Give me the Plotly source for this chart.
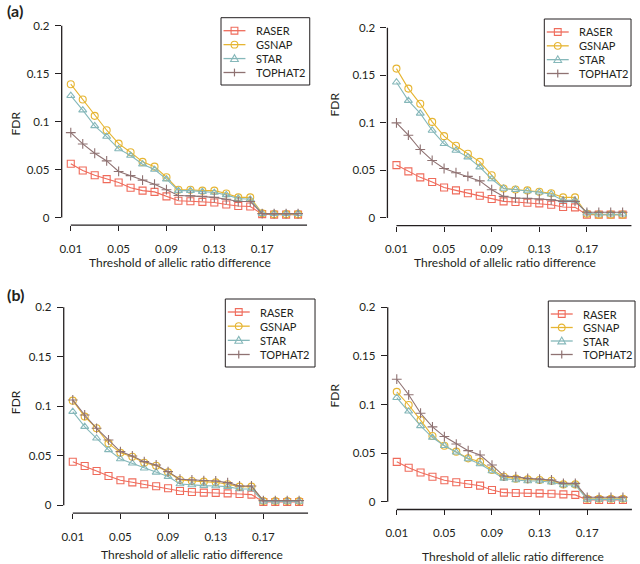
import plotly.graph_objects as go

W, H = 640, 564

# ---------------- data ----------------
thresholds = [0.01, 0.02, 0.03, 0.04, 0.05, 0.06, 0.07, 0.08, 0.09, 0.10,
              0.11, 0.12, 0.13, 0.14, 0.15, 0.16, 0.17, 0.18, 0.19, 0.20]
x_tickvals = [0.01, 0.05, 0.09, 0.13, 0.17]
x_ticktext = ["0.01", "0.05", "0.09", "0.13", "0.17"]
y_tickvals = [0, 0.05, 0.1, 0.15, 0.2]
y_ticktext = ["0", "0.05", "0.1", "0.15", "0.2"]
methods = ["RASER", "GSNAP", "STAR", "TOPHAT2"]

raser_a1 = [0.056, 0.049, 0.044, 0.040, 0.0365, 0.031, 0.028, 0.0267, 0.022, 0.0174,
            0.017, 0.0163, 0.0156, 0.0135, 0.012, 0.0115, 0.0035, 0.003, 0.003, 0.003]
gsnap_a1 = [0.139, 0.123, 0.106, 0.091, 0.077, 0.068, 0.058, 0.053, 0.042, 0.029,
            0.029, 0.028, 0.028, 0.025, 0.021, 0.021, 0.0045, 0.0035, 0.0035, 0.0035]
star_a1 = [0.127, 0.112, 0.0955, 0.0844, 0.0715, 0.0646, 0.0556, 0.050, 0.040, 0.028,
           0.028, 0.027, 0.026, 0.0236, 0.0198, 0.019, 0.004, 0.004, 0.004, 0.004]
tophat2_a1 = [0.0885, 0.0767, 0.067, 0.059, 0.048, 0.0437, 0.039, 0.0347, 0.029, 0.023,
              0.0226, 0.022, 0.021, 0.019, 0.0167, 0.0167, 0.004, 0.004, 0.004, 0.004]

raser_a2 = [0.0556, 0.049, 0.0427, 0.0378, 0.032, 0.029, 0.026, 0.0234, 0.020, 0.0175,
            0.0168, 0.016, 0.0154, 0.014, 0.0115, 0.0112, 0.0035, 0.0035, 0.0035, 0.0035]
gsnap_a2 = [0.157, 0.136, 0.120, 0.101, 0.086, 0.076, 0.0675, 0.059, 0.045, 0.031,
            0.030, 0.029, 0.0276, 0.026, 0.0217, 0.0217, 0.0045, 0.0035, 0.0035, 0.0035]
star_a2 = [0.1427, 0.1234, 0.110, 0.092, 0.078, 0.071, 0.064, 0.0535, 0.041, 0.031,
           0.0297, 0.0283, 0.027, 0.025, 0.0185, 0.0185, 0.005, 0.004, 0.004, 0.004]
tophat2_a2 = [0.100, 0.087, 0.072, 0.0605, 0.052, 0.0476, 0.0437, 0.039, 0.0297, 0.0227,
              0.021, 0.0206, 0.020, 0.019, 0.0175, 0.0175, 0.006, 0.006, 0.006, 0.006]

raser_b1 = [0.044, 0.0397, 0.0347, 0.0296, 0.0253, 0.0232, 0.0212, 0.0192, 0.0172, 0.0145,
            0.0135, 0.0128, 0.0125, 0.012, 0.0114, 0.0108, 0.0034, 0.0034, 0.0034, 0.0034]
gsnap_b1 = [0.1057, 0.0896, 0.0778, 0.0626, 0.053, 0.049, 0.043, 0.040, 0.0333, 0.0256,
            0.0246, 0.0239, 0.0232, 0.0212, 0.0189, 0.0189, 0.0044, 0.0044, 0.0044, 0.0044]
star_b1 = [0.0946, 0.0795, 0.0677, 0.056, 0.0468, 0.0424, 0.0374, 0.0333, 0.029, 0.0215,
           0.0205, 0.0199, 0.0195, 0.0189, 0.0165, 0.0165, 0.004, 0.004, 0.004, 0.004]
tophat2_b1 = [0.1064, 0.0912, 0.0778, 0.066, 0.0542, 0.0498, 0.0441, 0.0407, 0.034, 0.0263,
              0.0256, 0.0249, 0.0246, 0.0229, 0.0195, 0.0195, 0.0047, 0.0047, 0.0047, 0.0047]

raser_b2 = [0.041, 0.035, 0.030, 0.0257, 0.022, 0.020, 0.0182, 0.0165, 0.012, 0.0093,
            0.009, 0.009, 0.0086, 0.0082, 0.0075, 0.007, 0.0017, 0.0017, 0.0017, 0.0017]
gsnap_b2 = [0.113, 0.0995, 0.084, 0.0676, 0.0576, 0.0515, 0.0446, 0.041, 0.0326, 0.0257,
            0.0237, 0.023, 0.0223, 0.0216, 0.0178, 0.0178, 0.003, 0.003, 0.003, 0.003]
star_b2 = [0.107, 0.093, 0.078, 0.066, 0.0576, 0.0508, 0.044, 0.0388, 0.0316, 0.024,
           0.0223, 0.0213, 0.0213, 0.020, 0.0172, 0.0172, 0.0024, 0.0024, 0.0024, 0.0024]
tophat2_b2 = [0.126, 0.110, 0.091, 0.077, 0.067, 0.0593, 0.0525, 0.048, 0.0377, 0.0264,
              0.0257, 0.024, 0.0233, 0.0223, 0.0189, 0.0189, 0.0045, 0.0045, 0.0045, 0.0045]

panels_data = [
    [raser_a1, gsnap_a1, star_a1, tophat2_a1],
    [raser_a2, gsnap_a2, star_a2, tophat2_a2],
    [raser_b1, gsnap_b1, star_b1, tophat2_b1],
    [raser_b2, gsnap_b2, star_b2, tophat2_b2],
]

# ---------------- style ----------------
FONT = "Lato"
TXT = "#231f20"
AX = "#231f20"
colors = ["#EF6B5B", "#E6B532", "#86B8BA", "#8F7272"]
symbols = ["square-open", "circle-open", "triangle-up-open", "cross-thin-open"]
legend_symbols = ["square", "circle", "triangle", "plus"]

XR = [0.0024, 0.2076]
YR = [-0.008, 0.208]

# pixel anchors per panel: x of 0.01, px per unit x, y of 0, y of 0.2
anchors = [
    dict(x01=69.0, kx=1200.0, y0=217.5, y2=25.7),
    dict(x01=395.7, kx=1194.0, y0=218.0, y2=27.7),
    dict(x01=71.0, kx=1195.0, y0=505.3, y2=307.3),
    dict(x01=396.0, kx=1194.0, y0=501.7, y2=307.3),
]
legend_boxes = [(219.7, 17.7, 308.7, 85.0), (544.0, 19.0, 631.0, 86.0),
                (224.0, 299.0, 314.0, 367.0), (548.0, 301.0, 635.0, 367.0)]
xtitle_pos = [(178.5, 262.0), (504.7, 262.0), (190.7, 554.0), (513.0, 556.0)]
ytitle_pos = [(13.5, 123.0), (333.5, 104.0), (13.5, 401.7), (333.5, 395.0)]


def px(xp):
    return xp / W


def py(yp):
    return 1 - yp / H


fig = go.Figure()
layout = dict(
    width=W, height=H, margin=dict(l=0, r=0, t=0, b=0),
    paper_bgcolor="white", plot_bgcolor="white",
    font=dict(family=FONT, size=11, color=TXT),
    showlegend=False,
)
shapes = []
annotations = []

for i, (anc, data) in enumerate(zip(anchors, panels_data)):
    n = i + 1
    xa = "x" if n == 1 else f"x{n}"
    ya = "y" if n == 1 else f"y{n}"
    left = anc["x01"] - (0.01 - XR[0]) * anc["kx"]
    right = anc["x01"] + (XR[1] - 0.01) * anc["kx"]
    ky = (anc["y0"] - anc["y2"]) / 0.2
    top = anc["y2"] - (YR[1] - 0.2) * ky
    bottom = anc["y0"] + (0 - YR[0]) * ky

    for m, vals, c, s in zip(methods, data, colors, symbols):
        fig.add_trace(go.Scatter(
            x=thresholds, y=vals, name=m, mode="lines+markers",
            xaxis=xa, yaxis=ya, cliponaxis=False,
            line=dict(color=c, width=1.1),
            marker=dict(symbol=s, size=7, color=c, line=dict(color=c, width=1.1)),
        ))

    layout["xaxis" if n == 1 else f"xaxis{n}"] = dict(
        domain=[left / W, right / W], range=XR, anchor=ya,
        showgrid=False, zeroline=False, showline=False,
        ticks="outside", ticklen=5, tickwidth=1.2, tickcolor=AX,
        tickvals=x_tickvals, ticktext=x_ticktext, ticklabelstandoff=8,
        tickfont=dict(family=FONT, size=11.5, color=TXT),
    )
    layout["yaxis" if n == 1 else f"yaxis{n}"] = dict(
        domain=[1 - bottom / H, 1 - top / H], range=YR, anchor=xa,
        showgrid=False, zeroline=False, showline=False,
        ticks="outside", ticklen=6, tickwidth=1.2, tickcolor=AX,
        tickvals=y_tickvals, ticktext=y_ticktext, ticklabelstandoff=3,
        tickfont=dict(family=FONT, size=11.5, color=TXT),
    )
    # R-style detached axis lines
    shapes.append(dict(type="line", xref=xa, yref=f"{ya} domain",
                       x0=x_tickvals[0], x1=XR[1], y0=0, y1=0,
                       line=dict(color=AX, width=1.3)))
    shapes.append(dict(type="line", xref=f"{xa} domain", yref=ya,
                       x0=0, x1=0, y0=y_tickvals[0], y1=y_tickvals[-1],
                       line=dict(color=AX, width=1.3)))

    # legend box (R-style)
    bx0, by0, bx1, by1 = legend_boxes[i]
    shapes.append(dict(type="rect", xref="paper", yref="paper",
                       x0=px(bx0), x1=px(bx1), y0=py(by1), y1=py(by0),
                       line=dict(color=AX, width=1), fillcolor="white", layer="below"))
    step = (by1 - by0 - 13.0 * 2 + 0.5) / 3.0
    for k, (m, c, sym) in enumerate(zip(methods, colors, legend_symbols)):
        ey = by0 + 13.0 + k * step
        cx = bx0 + 13.5
        shapes.append(dict(type="line", xref="paper", yref="paper",
                           x0=px(bx0 + 2.5), x1=px(bx0 + 24.5), y0=py(ey), y1=py(ey),
                           line=dict(color=c, width=1.3)))
        r = 3.4
        if sym == "square":
            shapes.append(dict(type="rect", xref="paper", yref="paper",
                               x0=px(cx - r), x1=px(cx + r), y0=py(ey + r), y1=py(ey - r),
                               line=dict(color=c, width=1.1), fillcolor="rgba(0,0,0,0)"))
        elif sym == "circle":
            shapes.append(dict(type="circle", xref="paper", yref="paper",
                               x0=px(cx - r), x1=px(cx + r), y0=py(ey + r), y1=py(ey - r),
                               line=dict(color=c, width=1.1), fillcolor="rgba(0,0,0,0)"))
        elif sym == "triangle":
            path = (f"M {px(cx - r - 0.5)},{py(ey + r - 0.5)} L {px(cx + r + 0.5)},{py(ey + r - 0.5)} "
                    f"L {px(cx)},{py(ey - r - 0.5)} Z")
            shapes.append(dict(type="path", xref="paper", yref="paper", path=path,
                               line=dict(color=c, width=1.1), fillcolor="rgba(0,0,0,0)"))
        else:
            shapes.append(dict(type="line", xref="paper", yref="paper",
                               x0=px(cx), x1=px(cx), y0=py(ey - r - 0.5), y1=py(ey + r + 0.5),
                               line=dict(color=c, width=1.2)))
        annotations.append(dict(text=m, x=px(bx0 + 33.0), y=py(ey), xref="paper", yref="paper",
                                showarrow=False, xanchor="left", yanchor="middle",
                                font=dict(family=FONT, size=11, color=TXT)))

    tx, ty = xtitle_pos[i]
    annotations.append(dict(text="Threshold of allelic ratio difference",
                            x=px(tx), y=py(ty), xref="paper", yref="paper",
                            showarrow=False, xanchor="center", yanchor="middle",
                            font=dict(family=FONT, size=12, color=TXT)))
    tx, ty = ytitle_pos[i]
    annotations.append(dict(text="FDR", x=px(tx), y=py(ty),
                            xref="paper", yref="paper", showarrow=False,
                            textangle=-90, xanchor="center", yanchor="middle",
                            font=dict(family=FONT, size=12, color=TXT)))

annotations.append(dict(text="<b>(a)</b>", x=px(13), y=py(11), xref="paper", yref="paper",
                        showarrow=False, xanchor="center", yanchor="middle",
                        font=dict(family=FONT, size=16, color=TXT)))
annotations.append(dict(text="<b>(b)</b>", x=px(13.5), y=py(294), xref="paper", yref="paper",
                        showarrow=False, xanchor="center", yanchor="middle",
                        font=dict(family=FONT, size=16, color=TXT)))

layout["shapes"] = shapes
layout["annotations"] = annotations
fig.update_layout(**layout)
fig.write_html("out.html",
               config={"displayModeBar": False},
               post_script="document.body.style.margin='0';document.body.style.overflow='hidden';")
